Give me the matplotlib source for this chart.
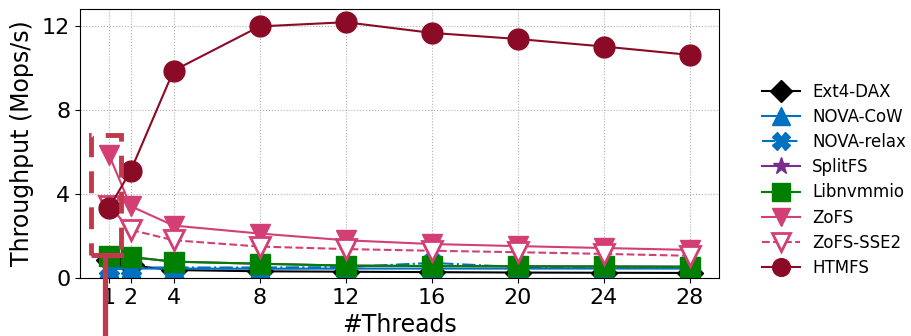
import matplotlib
matplotlib.use("Agg")
import matplotlib.pyplot as plt
from matplotlib.patches import Rectangle
from matplotlib.lines import Line2D

threads = [1, 2, 4, 8, 12, 16, 20, 24, 28]
ext4_dax = [0.85, 0.6, 0.38, 0.32, 0.3, 0.28, 0.26, 0.25, 0.24]
nova_cow = [0.42, 0.45, 0.45, 0.44, 0.45, 0.45, 0.45, 0.45, 0.45]
nova_relax = [0.5, 0.5, 0.5, 0.5, 0.52, 0.72, 0.52, 0.5, 0.5]
splitfs = [1.05, 1.0, 0.78, 0.68, 0.59, 0.57, 0.56, 0.55, 0.54]
libnvmmio = [1.05, 1.0, 0.78, 0.68, 0.59, 0.57, 0.56, 0.55, 0.54]
zofs = [5.87, 3.43, 2.5, 2.12, 1.8, 1.62, 1.52, 1.43, 1.34]
zofs_sse2 = [3.45, 2.3, 1.8, 1.5, 1.38, 1.3, 1.23, 1.15, 1.06]
htmfs = [3.34, 5.1, 9.89, 12.0, 12.2, 11.69, 11.4, 11.04, 10.64]
xticks = [1, 2, 4, 8, 12, 16, 20, 24, 28]
yticks = [0, 4, 8, 12]

fig = plt.figure(figsize=(9.11, 3.36), dpi=100)
ax = fig.add_axes([80/911, 58/336, (719-80)/911, (278-9)/336])

ms = 15
ax.plot(threads, ext4_dax, color='black', marker='D', ms=ms*0.9, lw=1.5, label='Ext4-DAX')
ax.plot(threads, nova_cow, color='#0070C0', marker='^', ms=ms, lw=1.5, label='NOVA-CoW')
ax.plot(threads, nova_relax, color='#0070C0', marker='X', ms=ms, lw=1.5, ls='-.', label='NOVA-relax')
ax.plot(threads, splitfs, color='#7B2D8E', marker='*', ms=ms, lw=1.5, label='SplitFS')
ax.plot(threads, libnvmmio, color='#008000', marker='s', ms=ms, lw=1.5, label='Libnvmmio')
ax.plot(threads, zofs, color='#D33F74', marker='v', ms=ms, lw=1.5, label='ZoFS')
ax.plot(threads, zofs_sse2, color='#D33F74', marker='v', ms=ms, lw=1.5, ls='--',
        markerfacecolor='white', markeredgewidth=2, label='ZoFS-SSE2')
ax.plot(threads, htmfs, color='#8B0A25', marker='o', ms=ms, lw=1.5, label='HTMFS')

ax.set_xlim(-0.35, 29.35)
ax.set_ylim(0, 12.83)
ax.set_xticks(xticks)
ax.set_yticks(yticks)
ax.tick_params(labelsize=16)
ax.grid(True, ls=':', color='#b0b0b0', lw=0.8)
ax.set_xlabel('#Threads', fontsize=17, labelpad=4)
ax.set_ylabel('Throughput (Mops/s)', fontsize=17, labelpad=6)

ann = '#C03A4C'
rect = Rectangle((0.16, 1.1), 1.4, 5.72, fill=False, edgecolor=ann, lw=3.5,
                 ls=(0, (4.5, 2.9)), zorder=5)
ax.add_patch(rect)
ax.add_line(Line2D([1.56, 0.81, 0.81], [1.1, 1.1, -4], color=ann, lw=3.8,
                   clip_on=False, zorder=5))

fig.legend(loc='center left', bbox_to_anchor=(0.82, 0.465), frameon=False,
           fontsize=12, handlelength=2.3, markerscale=0.85, labelspacing=0.43,
           handletextpad=0.7)

fig.savefig('out.png', dpi=100)
